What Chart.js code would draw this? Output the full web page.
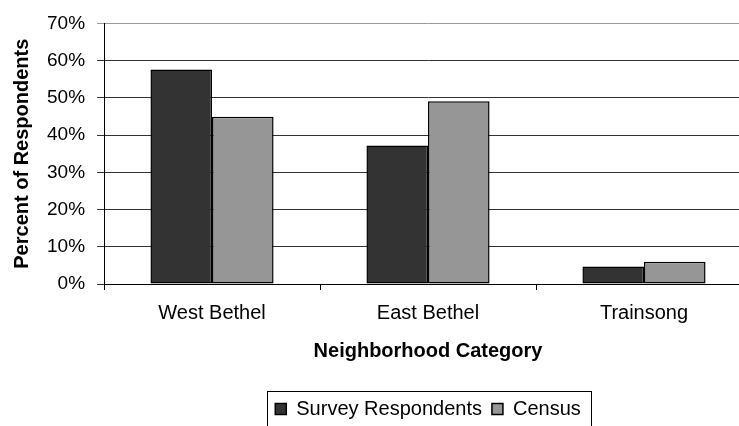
<!DOCTYPE html>
<html>
<head>
<meta charset="utf-8">
<script src="https://cdn.jsdelivr.net/npm/chart.js@4"></script>
<style>
  html, body { margin: 0; padding: 0; background: #fff; overflow: hidden; }
  #wrap { position: relative; width: 856px; height: 440px; }
</style>
</head>
<body>
<div id="wrap"><canvas id="chart"></canvas></div>
<script>
// Data
const categories = ['West Bethel', 'East Bethel', 'Trainsong'];
const surveyValues = [57.6, 37.2, 4.7];
const censusValues = [44.9, 49.1, 6.0];
const seriesNames = ['Survey Respondents', 'Census'];
const yTickValues = [0, 10, 20, 30, 40, 50, 60, 70];

const FONT = 'Liberation Sans, Arial, sans-serif';
const LEGEND_PAD = 10;

// Centre the legend under the plot area and draw a border round it
const legendBorder = {
    id: 'legendBorder',
    afterLayout(chart) {
        const lg = chart.legend;
        const dx = (chart.chartArea.left + chart.chartArea.right) / 2 - (lg.left + lg.right) / 2;
        lg.left += dx;
        lg.right += dx;
    },
    afterDraw(chart) {
        const lg = chart.legend;
        const w = lg.lineWidths[0] - LEGEND_PAD;
        const cx = (lg.left + lg.right) / 2;
        const cy = lg.top + lg.height / 2;
        const ctx = chart.ctx;
        ctx.save();
        ctx.strokeStyle = '#000';
        ctx.lineWidth = 1;
        ctx.strokeRect(Math.round(cx - w / 2 - 8) + 0.5, Math.round(cy - 18) + 0.5,
            Math.round(w + 19), 36);
        ctx.restore();
    }
};

new Chart(document.getElementById('chart'), {
    type: 'bar',
    data: {
        labels: categories,
        datasets: [{
            label: seriesNames[0],
            data: surveyValues,
            backgroundColor: '#333333',
            borderColor: '#000',
            borderWidth: 1.5,
            borderSkipped: false
        }, {
            label: seriesNames[1],
            data: censusValues,
            backgroundColor: '#969696',
            borderColor: '#000',
            borderWidth: 1.5,
            borderSkipped: false
        }]
    },
    options: {
        responsive: true,
        maintainAspectRatio: false,
        animation: false,
        categoryPercentage: 0.57,
        barPercentage: 1.0,
        layout: { padding: { top: 5, right: 104, left: 10, bottom: 11 } },
        plugins: {
            tooltip: { enabled: false },
            legend: {
                position: 'bottom',
                labels: {
                    boxWidth: 11,
                    boxHeight: 11,
                    padding: LEGEND_PAD,
                    color: '#000',
                    font: { family: FONT, size: 20 }
                }
            }
        },
        scales: {
            x: {
                grid: {
                    offset: true,
                    drawOnChartArea: false,
                    tickLength: 6,
                    color: '#000'
                },
                border: { color: '#000', width: 1 },
                ticks: {
                    color: '#000',
                    padding: 11,
                    font: { family: FONT, size: 20 }
                },
                title: {
                    display: true,
                    text: 'Neighborhood Category',
                    color: '#000',
                    padding: { top: 3, bottom: 26 },
                    font: { family: FONT, size: 20, weight: 'bold' }
                }
            },
            y: {
                min: 0,
                max: 70,
                afterBuildTicks(axis) {
                    axis.ticks = yTickValues.map(v => ({ value: v }));
                },
                grid: {
                    tickLength: 7,
                    color: ctx => ctx.tick && ctx.tick.value === 70 ? '#999' : '#333'
                },
                border: { color: '#000', width: 1 },
                ticks: {
                    color: '#000',
                    padding: 12,
                    font: { family: FONT, size: 19 },
                    callback: v => v + '%'
                },
                title: {
                    display: true,
                    text: 'Percent of Respondents',
                    color: '#000',
                    padding: { top: 0, bottom: 1 },
                    font: { family: FONT, size: 20, weight: 'bold' }
                }
            }
        }
    },
    plugins: [legendBorder]
});
</script>
</body>
</html>
